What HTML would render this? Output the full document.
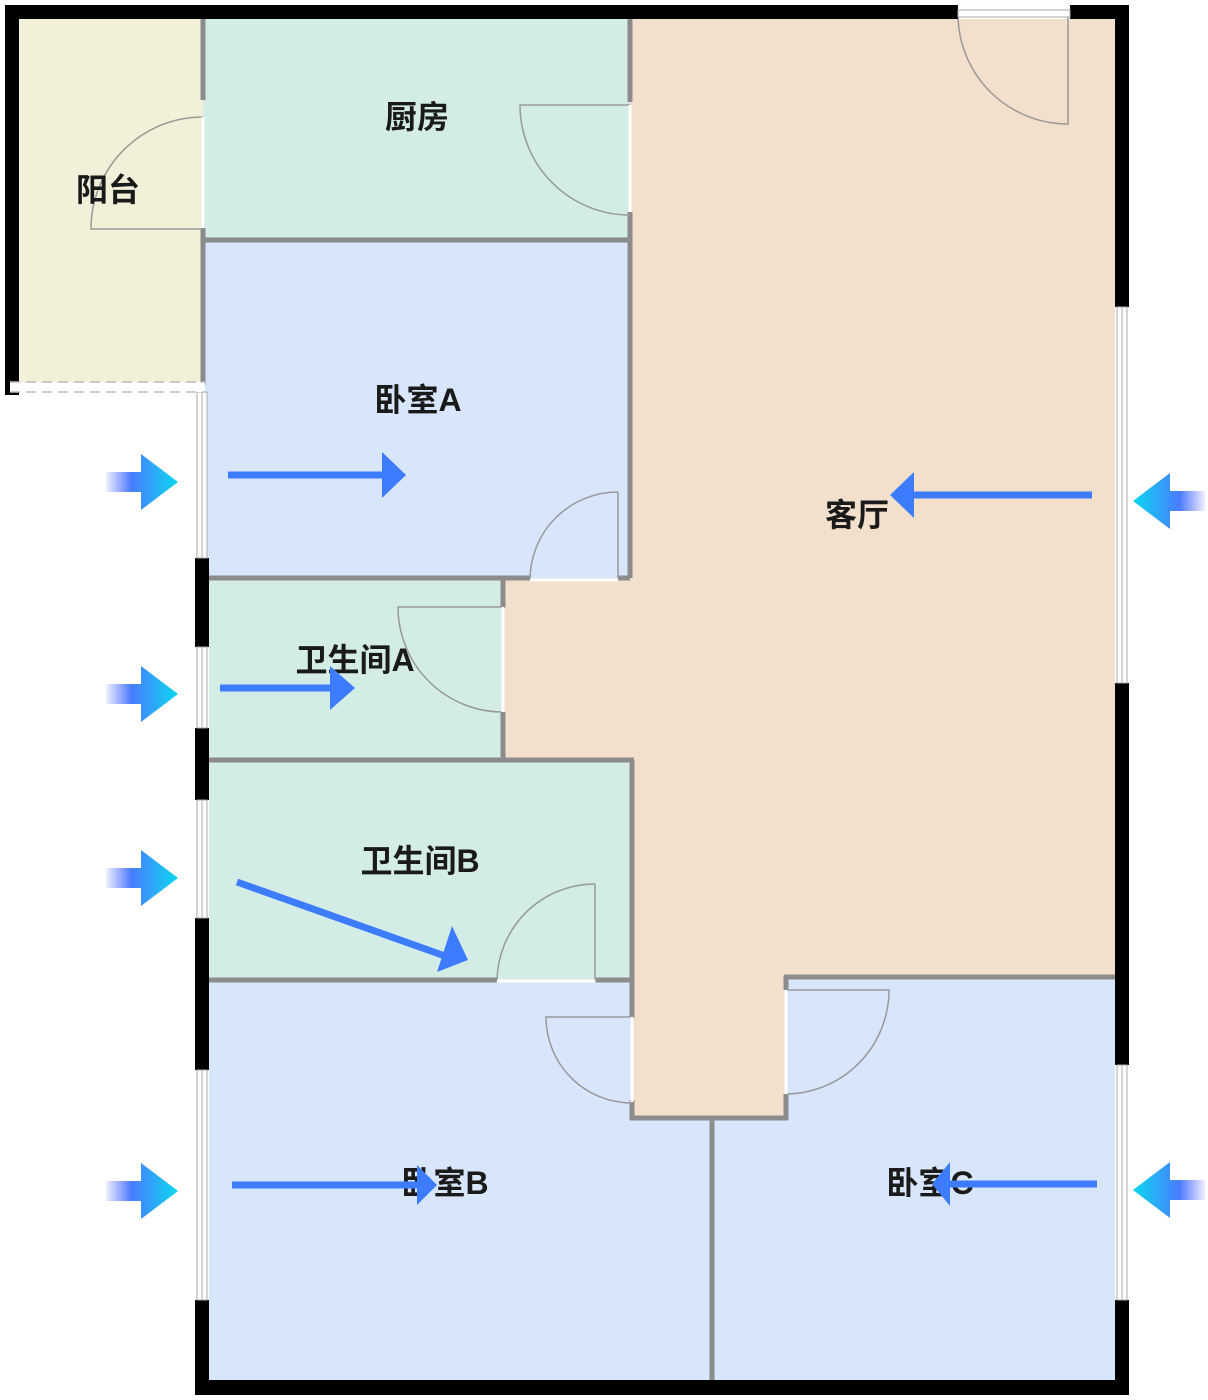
<!DOCTYPE html>
<html><head><meta charset="utf-8"><style>
html,body{margin:0;padding:0;background:#fff;width:1208px;height:1400px;overflow:hidden}
text{font-family:"Liberation Sans","Noto Sans CJK SC",sans-serif;font-size:32px;fill:#1a1a1a;text-anchor:middle;font-weight:700}
</style></head><body>
<svg width="1208" height="1400" viewBox="0 0 1208 1400" xmlns="http://www.w3.org/2000/svg">
<defs>
<linearGradient id="gr" x1="0" x2="1" y1="0" y2="0"><stop offset="0" stop-color="#5a6cff" stop-opacity="0.1"/><stop offset="0.35" stop-color="#4a7cff"/><stop offset="1" stop-color="#0ad8ee"/></linearGradient>
<linearGradient id="gl" x1="1" x2="0" y1="0" y2="0"><stop offset="0" stop-color="#5a6cff" stop-opacity="0.1"/><stop offset="0.35" stop-color="#4a7cff"/><stop offset="1" stop-color="#0ad8ee"/></linearGradient>
<g id="ar"><path d="M0,-10 L35,-10 L35,-28 L72,0 L35,28 L35,10 L0,10 Z" fill="url(#gr)"/></g>
<g id="al"><path d="M0,-10 L-35,-10 L-35,-28 L-72,0 L-35,28 L-35,10 L0,10 Z" fill="url(#gl)"/></g>
</defs>
<rect x="19" y="19" width="184" height="366" fill="#f2f0d8"/>
<rect x="203" y="19" width="427" height="221" fill="#d3ede6"/>
<rect x="203" y="240" width="427" height="338" fill="#d8e6fc"/>
<rect x="630" y="19" width="485" height="958" fill="#f2e0cc"/>
<rect x="503" y="578" width="130" height="184" fill="#f2e0cc"/>
<rect x="632" y="975" width="153" height="143" fill="#f2e0cc"/>
<rect x="209" y="580" width="294" height="180" fill="#d3ede6"/>
<rect x="209" y="762" width="423" height="218" fill="#d3ede6"/>
<path d="M209,980 L632,980 L632,1118 L785,1118 L785,978 L1115,978 L1115,1380 L209,1380 Z" fill="#d8e6fc"/>
<g stroke="#8c8c8c" stroke-width="5" fill="none">
<line x1="203" y1="19" x2="203" y2="100"/>
<line x1="203" y1="228" x2="203" y2="385"/>
<line x1="203" y1="240" x2="630" y2="240"/>
<line x1="630" y1="15" x2="630" y2="102"/>
<line x1="630" y1="212" x2="630" y2="578"/>
<line x1="209" y1="578" x2="530" y2="578"/>
<line x1="618" y1="578" x2="630" y2="578"/>
<line x1="503" y1="580" x2="503" y2="608"/>
<line x1="503" y1="712" x2="503" y2="762"/>
<line x1="209" y1="760" x2="634" y2="760"/>
<line x1="632" y1="760" x2="632" y2="1018"/>
<line x1="632" y1="1100" x2="632" y2="1120"/>
<line x1="209" y1="980" x2="498" y2="980"/>
<line x1="596" y1="980" x2="632" y2="980"/>
<line x1="630" y1="1118" x2="788" y2="1118"/>
<line x1="786" y1="1094" x2="786" y2="1120"/>
<line x1="786" y1="976" x2="786" y2="990"/>
<line x1="784" y1="977" x2="1115" y2="977"/>
<line x1="712" y1="1118" x2="712" y2="1380"/>
</g>
<g stroke="#999" stroke-width="1.5" fill="none">
<path d="M203,117 A112,112 0 0 0 91,229 L203,229"/>
<path d="M630,105 L520,105 A110,110 0 0 0 630,215"/>
<path d="M618,492 A88,88 0 0 0 530,580 M618,492 L618,580"/>
<path d="M503,607 L398,607 A105,105 0 0 0 503,712"/>
<path d="M595,884 A98,98 0 0 0 497,982 M595,884 L595,982"/>
<path d="M632,1017 L546,1017 A86,86 0 0 0 632,1103"/>
<path d="M786,990 L889,990 A104,104 0 0 1 786,1094"/>
<path d="M958,15 A110,110 0 0 0 1068,124 L1068,15"/>
</g>
<g stroke="#fff" stroke-width="3">
<line x1="203" y1="117" x2="203" y2="228"/><line x1="630" y1="105" x2="630" y2="212"/>
<line x1="530" y1="580" x2="618" y2="580"/><line x1="503" y1="607" x2="503" y2="712"/>
<line x1="497" y1="981" x2="595" y2="981"/><line x1="632" y1="1017" x2="632" y2="1102"/>
<line x1="786" y1="990" x2="786" y2="1094"/>
</g>
<g fill="#000">
<rect x="5" y="5" width="953" height="14"/>
<rect x="1070" y="5" width="59" height="14"/>
<rect x="5" y="5" width="14" height="390"/>
<rect x="1115" y="5" width="14" height="302"/>
<rect x="1115" y="683" width="14" height="382"/>
<rect x="1115" y="1300" width="14" height="95"/>
<rect x="195" y="1380" width="934" height="15"/>
<rect x="195" y="558" width="14" height="89"/>
<rect x="195" y="728" width="14" height="72"/>
<rect x="195" y="918" width="14" height="152"/>
<rect x="195" y="1300" width="14" height="95"/>
</g>
<g fill="#fff" stroke="#aaa" stroke-width="1">
<rect x="197" y="392" width="10" height="166"/>
<rect x="197" y="647" width="10" height="81"/>
<rect x="197" y="800" width="10" height="118"/>
<rect x="197" y="1070" width="10" height="230"/>
<rect x="1117" y="307" width="10" height="376"/>
<rect x="1117" y="1065" width="10" height="235"/>
<rect x="958" y="10" width="112" height="7"/>
</g>
<g stroke="#aaa" stroke-width="1"><line x1="202" y1="392" x2="202" y2="558"/><line x1="202" y1="647" x2="202" y2="728"/><line x1="202" y1="800" x2="202" y2="918"/><line x1="202" y1="1070" x2="202" y2="1300"/><line x1="1122" y1="307" x2="1122" y2="683"/><line x1="1122" y1="1065" x2="1122" y2="1300"/></g>
<rect x="10" y="382" width="195" height="10" fill="#fff"/>
<g stroke="#bbb" stroke-width="1.5" stroke-dasharray="10,6"><line x1="10" y1="382" x2="205" y2="382"/><line x1="10" y1="392" x2="205" y2="392"/></g>
<text x="417" y="128">厨房</text>
<text x="108" y="201">阳台</text>
<text x="418" y="411">卧室A</text>
<text x="857" y="526">客厅</text>
<text x="355" y="671">卫生间A</text>
<text x="420" y="872">卫生间B</text>
<text x="445" y="1194">卧室B</text>
<text x="930" y="1194">卧室C</text>
<g fill="#3d7bff" stroke="#3d7bff">
<line x1="228" y1="475" x2="385" y2="475" stroke-width="7"/><path d="M382,452 L406,475 L382,498 Z" stroke="none"/>
<line x1="220" y1="688" x2="332" y2="688" stroke-width="7"/><path d="M330,666 L355,688 L330,710 Z" stroke="none"/>
<line x1="237" y1="882" x2="445" y2="956" stroke-width="7"/><path d="M452,926 L468,960 L437,972 Z" stroke="none"/>
<line x1="232" y1="1185" x2="420" y2="1185" stroke-width="7"/><path d="M417,1165 L437,1185 L417,1205 Z" stroke="none"/>
<line x1="1092" y1="495" x2="910" y2="495" stroke-width="7"/><path d="M914,472 L890,495 L914,518 Z" stroke="none"/>
<line x1="1097" y1="1184" x2="950" y2="1184" stroke-width="7"/><path d="M950,1162 L932,1184 L950,1206 Z" stroke="none"/>
</g>
<use href="#ar" x="106" y="482"/>
<use href="#ar" x="106" y="694"/>
<use href="#ar" x="106" y="878"/>
<use href="#ar" x="106" y="1191"/>
<use href="#al" x="1205" y="501"/>
<use href="#al" x="1205" y="1190"/>
</svg>
</body></html>
